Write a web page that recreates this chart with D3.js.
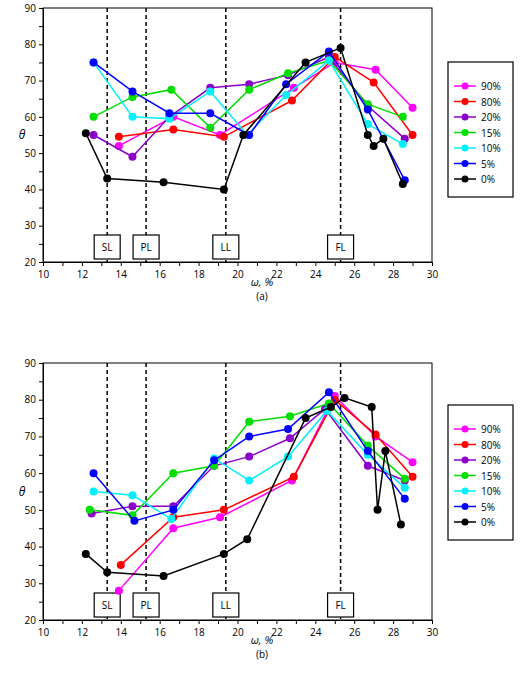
<!DOCTYPE html><html><head><meta charset="utf-8"><script src="https://cdn.jsdelivr.net/npm/d3@7"></script>
<style>body{margin:0;background:#fff}text{font-family:"Open Sans",sans-serif}</style></head><body><svg id="c" width="520" height="680"></svg><script>
const seriesNames=["90%","80%","20%","15%","10%","5%","0%"];
const colors=["#ff00ff","#ff0000","#8b00c8","#00dd00","#00f0ff","#0000ff","#000000"];
const limitNames=["SL","PL","LL","FL"];
const limitX=[13.3,15.3,19.4,25.3];
const xTicks=[10,12,14,16,18,20,22,24,26,28,30];
const yTicks=[20,30,40,50,60,70,80,90];
const panelA=[
[[13.9,52],[16.7,60],[19.1,55],[22.9,68],[25.0,75],[27.1,73],[29.0,62.5]],
[[13.9,54.5],[16.7,56.5],[19.3,54.5],[22.8,64.5],[25.0,76.5],[27.0,69.5],[29.0,55]],
[[12.6,55],[14.6,49],[16.5,60],[18.6,68],[20.6,69],[22.6,71.5],[24.7,76.5],[26.7,63],[28.6,54]],
[[12.6,60],[14.6,65.5],[16.6,67.5],[18.6,57],[20.6,67.5],[22.6,72],[24.7,75.5],[26.7,63.5],[28.5,60]],
[[12.6,75],[14.6,60],[16.5,59.5],[18.6,67],[20.5,55],[22.5,66],[24.7,75.5],[26.7,58],[28.5,52.5]],
[[12.6,75],[14.6,67],[16.5,61],[18.6,61],[20.6,55],[22.5,69],[24.7,78],[26.7,62],[28.6,42.5]],
[[12.2,55.5],[13.3,43],[16.2,42],[19.3,40],[20.3,55],[23.5,75],[25.3,79],[26.7,55],[27,52],[27.5,54],[28.5,41.5]]];
const panelB=[
[[13.9,28],[16.7,45],[19.1,48],[22.8,58],[25.0,81],[27.1,70],[29.0,63]],
[[14.0,35],[16.7,48],[19.3,50],[22.9,59],[25.0,80],[27.1,70.5],[29.0,59]],
[[12.5,49],[14.6,51],[16.7,51],[18.8,62],[20.6,64.5],[22.7,69.5],[24.5,77.5],[26.7,62],[28.6,58]],
[[12.4,50],[14.6,48.5],[16.7,60],[18.8,62],[20.6,74],[22.7,75.5],[24.7,79],[26.7,67.5],[28.6,58.5]],
[[12.6,55],[14.6,54],[16.6,47.5],[18.8,64],[20.6,58],[22.6,64.5],[24.6,77],[26.7,65],[28.6,56]],
[[12.6,60],[14.7,47],[16.7,50],[18.8,63.5],[20.6,70],[22.6,72],[24.7,82],[26.7,66],[28.6,53]],
[[12.2,38],[13.3,33],[16.2,32],[19.3,38],[20.5,42],[23.5,75],[24.8,78],[25.5,80.5],[26.9,78],[27.2,50],[27.6,66],[28.4,46]]];
const svg=d3.select("#c");
function panel(data,top,bottom,label,legTop){
  const x=d3.scaleLinear().domain([10,30]).range([43,432]);
  const y=d3.scaleLinear().domain([20,90]).range([bottom,top]);
  const g=svg.append("g");
  g.append("g").attr("transform",`translate(0,${bottom})`).call(d3.axisBottom(x).tickValues(d3.range(10,31,1)).tickSize(4).tickFormat(d=>xTicks.includes(d)?d:"")).call(a=>a.selectAll("text").attr("font-size",10).attr("dy","0.9em"));
  g.append("g").attr("transform",`translate(43,0)`).call(d3.axisLeft(y).tickValues(d3.range(20,91,5)).tickSize(4).tickFormat(d=>yTicks.includes(d)?d:"")).call(a=>a.selectAll("text").attr("font-size",10));
  g.selectAll(".domain").attr("stroke","#000");
  g.append("rect").attr("x",43).attr("y",top).attr("width",389).attr("height",bottom-top).attr("fill","none").attr("stroke","#000");
  limitX.forEach((v,i)=>{
    g.append("line").attr("x1",x(v)).attr("x2",x(v)).attr("y1",top).attr("y2",bottom).attr("stroke","#000").attr("stroke-width",1.5).attr("stroke-dasharray","4,3");
    g.append("rect").attr("x",x(v)-13).attr("y",bottom-27).attr("width",26).attr("height",24).attr("fill","#fff").attr("stroke","#000").attr("stroke-width",1.2);
    g.append("text").attr("x",x(v)).attr("y",bottom-11).attr("text-anchor","middle").attr("font-size",10).text(limitNames[i]);
  });
  data.forEach((s,i)=>{
    g.append("path").datum(s).attr("fill","none").attr("stroke",colors[i]).attr("stroke-width",1.5).attr("d",d3.line().x(d=>x(d[0])).y(d=>y(d[1])));
    g.selectAll(null).data(s).enter().append("circle").attr("cx",d=>x(d[0])).attr("cy",d=>y(d[1])).attr("r",4).attr("fill",colors[i]);
  });
  g.append("text").attr("x",22).attr("y",(top+bottom)/2+4).attr("text-anchor","middle").attr("font-size",12).attr("font-style","italic").text("θ");
  g.append("text").attr("x",262).attr("y",bottom+24).attr("text-anchor","middle").attr("font-size",11).attr("font-style","italic").text("ω, %");
  g.append("text").attr("x",262).attr("y",bottom+38).attr("text-anchor","middle").attr("font-size",10).text(label);
  g.append("rect").attr("x",448).attr("y",legTop).attr("width",65).attr("height",135).attr("fill","#fff").attr("stroke","#000").attr("stroke-width",1.2);
  seriesNames.forEach((n,i)=>{
    const yy=legTop+24+i*15.5;
    g.append("line").attr("x1",454).attr("x2",476).attr("y1",yy).attr("y2",yy).attr("stroke",colors[i]).attr("stroke-width",1.5);
    g.append("circle").attr("cx",465).attr("cy",yy).attr("r",3.5).attr("fill",colors[i]);
    g.append("text").attr("x",481).attr("y",yy+4).attr("font-size",10).text(n);
  });
}
panel(panelA,8,262,"(a)",62);
panel(panelB,363,620,"(b)",405);
</script></body></html>
